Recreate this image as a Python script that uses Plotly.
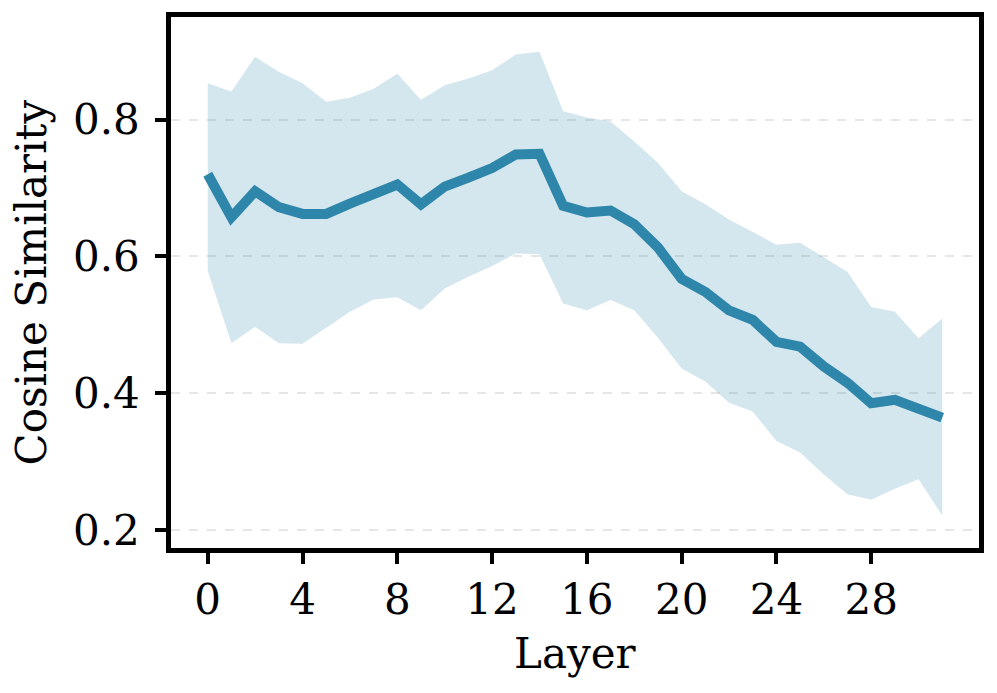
import plotly.graph_objects as go

layers = list(range(32))
mean_sim = [0.720, 0.657, 0.695, 0.672, 0.662, 0.662, 0.677, 0.693, 0.705, 0.676,
            0.702, 0.715, 0.729, 0.749, 0.750, 0.674, 0.664, 0.667, 0.647, 0.613,
            0.567, 0.548, 0.521, 0.507, 0.475, 0.468, 0.439, 0.415, 0.385, 0.390,
            0.376, 0.364]
upper_sim = [0.853, 0.841, 0.892, 0.870, 0.853, 0.826, 0.832, 0.845, 0.867, 0.829,
             0.850, 0.860, 0.872, 0.895, 0.899, 0.812, 0.803, 0.797, 0.768, 0.737,
             0.695, 0.676, 0.654, 0.636, 0.617, 0.620, 0.598, 0.577, 0.526, 0.519,
             0.480, 0.509]
lower_sim = [0.579, 0.473, 0.497, 0.473, 0.472, 0.495, 0.519, 0.537, 0.540, 0.521,
             0.553, 0.570, 0.586, 0.604, 0.603, 0.531, 0.521, 0.536, 0.521, 0.481,
             0.436, 0.417, 0.386, 0.373, 0.330, 0.313, 0.281, 0.252, 0.244, 0.260,
             0.274, 0.221]
x_ticks = [0, 4, 8, 12, 16, 20, 24, 28]
y_ticks = [0.2, 0.4, 0.6, 0.8]
x_title = "Layer"
y_title = "Cosine Similarity"

LINE = "#2E86AB"
FONT = "DejaVu Serif"
FS = 42

# page body has an 8px default margin, so offset the figure layout accordingly
OFF = 8
W, H = 997, 693
PW, PH = 808, 531
ML, MT = 171 - OFF, 17 - OFF
MR, MB = W - ML - PW, H - MT - PH

fig = go.Figure()
fig.add_trace(go.Scatter(x=layers, y=upper_sim, mode="lines",
                         line=dict(width=0, color=LINE), showlegend=False,
                         hoverinfo="skip"))
fig.add_trace(go.Scatter(x=layers, y=lower_sim, mode="lines", fill="tonexty",
                         fillcolor="rgba(46,134,171,0.2)",
                         line=dict(width=0, color=LINE), showlegend=False,
                         hoverinfo="skip"))
fig.add_trace(go.Scatter(x=layers, y=mean_sim, mode="lines",
                         line=dict(width=10, color=LINE), showlegend=False))

axis_common = dict(
    showline=True, linecolor="black", linewidth=4.5, mirror=True,
    ticks="outside", ticklen=11, tickwidth=3.5, tickcolor="black",
    tickfont=dict(family=FONT, size=FS, color="black"),
    zeroline=False, automargin=False,
)

fig.update_xaxes(range=[-1.55, 32.55], tickvals=x_ticks, showgrid=False,
                 **axis_common)
fig.update_yaxes(range=[0.1734, 0.950], tickvals=y_ticks, tickformat=".1f",
                 showgrid=True, gridcolor="rgba(200,200,200,0.45)", gridwidth=2,
                 griddash="dash", ticklabelstandoff=7, **axis_common)

fig.add_annotation(text=x_title, xref="paper", yref="paper",
                   x=0.5, y=(PH - (653 - OFF - MT)) / PH, xanchor="center",
                   yanchor="middle", showarrow=False,
                   font=dict(family=FONT, size=FS, color="black"))
fig.add_annotation(text=y_title, xref="paper", yref="paper",
                   x=(31 - OFF - ML) / PW, y=0.5, xanchor="center", yanchor="middle",
                   textangle=-90, showarrow=False,
                   font=dict(family=FONT, size=FS, color="black"))

fig.update_layout(
    width=W, height=H,
    margin=dict(l=ML, r=MR, t=MT, b=MB),
    plot_bgcolor="white", paper_bgcolor="white",
    font=dict(family=FONT, color="black"),
)

fig.write_html("out.html")
